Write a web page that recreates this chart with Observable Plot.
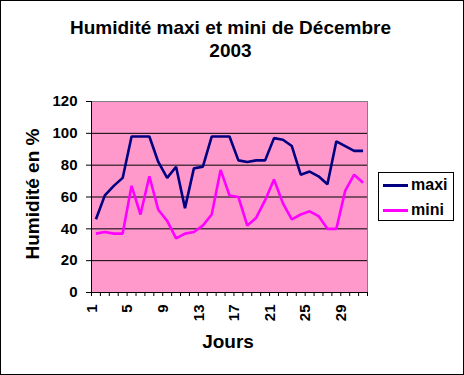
<!DOCTYPE html>
<html>
<head>
<meta charset="utf-8">
<script src="https://cdn.jsdelivr.net/npm/d3@7"></script>
<script src="https://cdn.jsdelivr.net/npm/@observablehq/plot@0.6"></script>
<style>
  html, body { margin: 0; padding: 0; background: #fff; }
  #wrap { position: relative; width: 464px; height: 375px; background: #fff; overflow: hidden;
          font-family: "Liberation Sans", Arial, sans-serif; font-weight: bold; color: #000; }
  #wrap svg { position: absolute; left: 0; top: 0; }
  #border { position: absolute; left: 0; top: 0; width: 464px; height: 375px; box-sizing: border-box;
            border: 1px solid #000; pointer-events: none; }
  #title { position: absolute; left: 0; top: 16px; width: 461px; text-align: center;
           font-size: 19px; line-height: 23px; }
  #ytitle { position: absolute; left: 31.5px; top: 194px; font-size: 19px; line-height: 19px; white-space: nowrap;
            transform: translate(-50%, -50%) rotate(-90deg); }
  #xtitle { position: absolute; left: 0; width: 456px; top: 332px; text-align: center; font-size: 19px; line-height: 19px; }
  #legend { position: absolute; left: 378px; top: 172px; width: 76px; height: 49px; box-sizing: border-box;
            border: 1px solid #000; background: #fff; }
  .item { position: absolute; left: 4px; height: 18px; font-size: 16px; line-height: 18px; white-space: nowrap; }
  .item .sw { position: absolute; left: 0; top: 7.5px; width: 25px; height: 3px; }
  .item .lb { position: absolute; left: 28px; top: 0; }
</style>
</head>
<body>
<div id="wrap">
  <div id="title">Humidité maxi et mini de Décembre<br>2003</div>
  <div id="ytitle">Humidité en %</div>
  <div id="xtitle">Jours</div>
  <div id="legend"></div>
  <div id="border"></div>
</div>
<script>
// ---- data ----
const days = [1,2,3,4,5,6,7,8,9,10,11,12,13,14,15,16,17,18,19,20,21,22,23,24,25,26,27,28,29,30,31];
const maxi = [46,61,67,72,98,98,98,82,72,79,53,78,79,98,98,98,83,82,83,83,97,96,92,74,76,73,68,95,92,89,89];
const mini = [37,38,37,37,67,49,73,52,45,34,37,38,42,49,77,61,60,42,47,58,71,56,46,49,51,48,40,40,64,74,69];
const seriesNames = ["maxi", "mini"];
const seriesColors = ["#000080", "#FF00FF"];
const yTicks = [0,20,40,60,80,100,120];
const gridValues = [20,40,60,80,100];
const xTickLabels = [1,5,9,13,17,21,25,29];

const rows = days.flatMap((d, i) => [
  {day: d, value: maxi[i], serie: "maxi"},
  {day: d, value: mini[i], serie: "mini"}
]);
// category boundaries (Excel-style ticks between categories)
const boundaries = [days[0] - 0.5, ...days.map(d => d + 0.5)];

const chart = Plot.plot({
  width: 464,
  height: 375,
  marginLeft: 91,
  marginRight: 97,
  marginTop: 101,
  marginBottom: 83,
  style: {fontFamily: "Liberation Sans, Arial, sans-serif", fontWeight: "bold", fontSize: "15px", color: "#000", background: "transparent", overflow: "visible"},
  x: {type: "linear", domain: [boundaries[0], boundaries[boundaries.length - 1]]},
  y: {domain: [yTicks[0], yTicks[yTicks.length - 1]]},
  color: {domain: seriesNames, range: seriesColors},
  marks: [
    Plot.frame({fill: "#FF99CC", stroke: null}),
    Plot.ruleY(gridValues, {stroke: "#000", strokeWidth: 1}),
    Plot.line(rows, {x: "day", y: "value", z: "serie", stroke: "serie", strokeWidth: 2.6, strokeLinejoin: "miter", strokeLinecap: "butt"}),
    Plot.frame({stroke: "#808080", strokeWidth: 1}),
    Plot.ruleY([yTicks[0]], {stroke: "#000", strokeWidth: 1}),
    Plot.ruleX([boundaries[0]], {stroke: "#000", strokeWidth: 1}),
    Plot.axisY({ticks: yTicks, tickSize: 5, tickPadding: 9, label: null, stroke: "#000", strokeOpacity: 1, fontSize: 15}),
    Plot.axisX({ticks: boundaries, tickSize: 4, tickFormat: () => "", label: null, stroke: "#000", strokeOpacity: 1}),
    Plot.axisX({ticks: xTickLabels, tickSize: 0, tickPadding: 12, tickRotate: -90, dx: -4, label: null, fontSize: 15})
  ]
});
document.getElementById("wrap").insertBefore(chart, document.getElementById("title"));

// legend
const legend = document.getElementById("legend");
seriesNames.forEach((name, i) => {
  const it = document.createElement("div");
  it.className = "item";
  it.style.top = (3 + i * 25) + "px";
  it.innerHTML = `<span class="sw" style="background:${seriesColors[i]}"></span><span class="lb">${name}</span>`;
  legend.appendChild(it);
});
</script>
</body>
</html>
